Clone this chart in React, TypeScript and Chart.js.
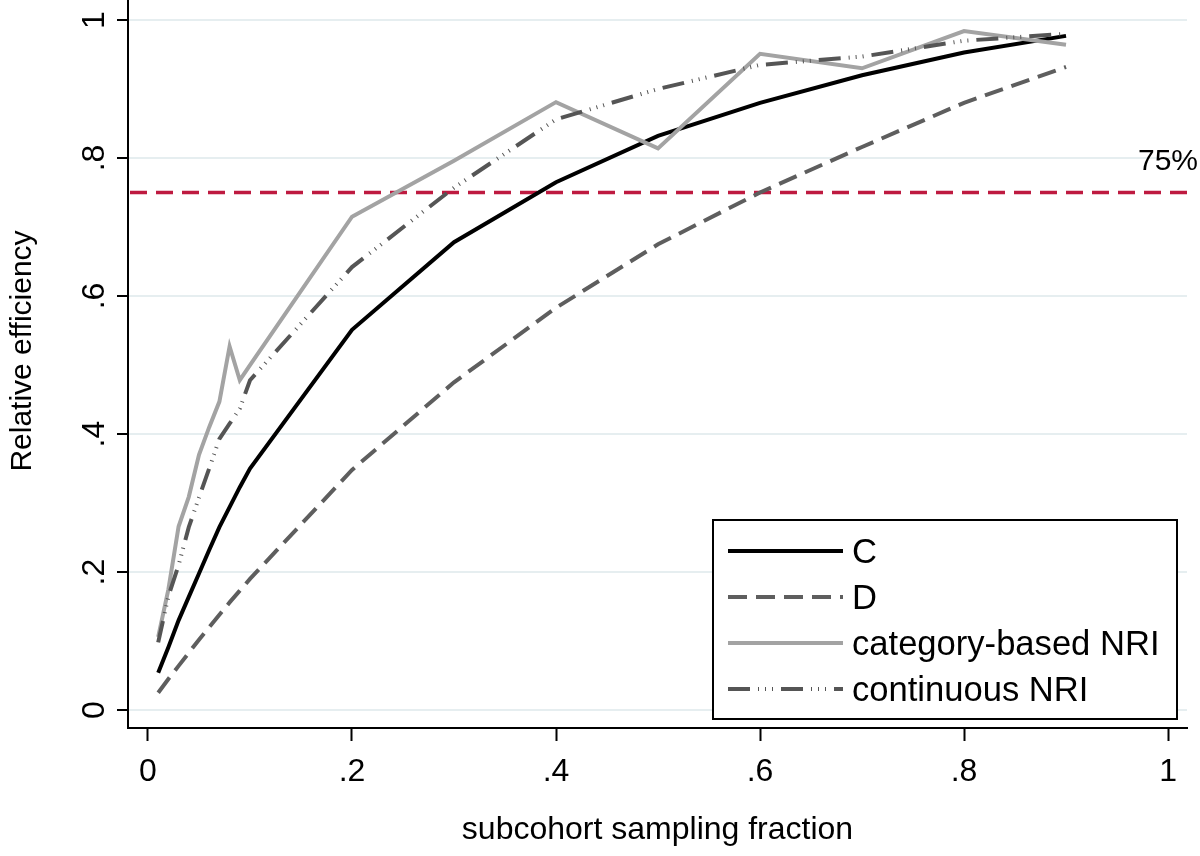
import React, { useEffect, useRef } from "react";
import { Chart, registerables } from "chart.js";

Chart.register(...registerables);

// ---- data ----
const samplingFractions = [0.01, 0.02, 0.03, 0.04, 0.05, 0.06, 0.07, 0.08, 0.09, 0.1, 0.2, 0.3, 0.4, 0.5, 0.6, 0.7, 0.8, 0.9];
const effC = [0.054, 0.091, 0.13, 0.164, 0.198, 0.232, 0.265, 0.294, 0.323, 0.35, 0.551, 0.678, 0.765, 0.832, 0.88, 0.92, 0.953, 0.977];
const effD = [0.025, 0.045, 0.064, 0.083, 0.102, 0.12, 0.138, 0.156, 0.173, 0.19, 0.348, 0.475, 0.583, 0.675, 0.75, 0.816, 0.88, 0.932];
const effCategoryNRI = [0.106, 0.175, 0.266, 0.309, 0.37, 0.41, 0.447, 0.527, 0.478, 0.5, 0.715, 0.796, 0.881, 0.814, 0.951, 0.93, 0.984, 0.964];
const effContinuousNRI = [0.098, 0.165, 0.21, 0.265, 0.308, 0.35, 0.393, 0.415, 0.437, 0.478, 0.642, 0.757, 0.856, 0.9, 0.935, 0.947, 0.97, 0.98];
const seriesLabels = ["C", "D", "category-based NRI", "continuous NRI"];
const xTickValues = [0, 0.2, 0.4, 0.6, 0.8, 1];
const yTickValues = [0, 0.2, 0.4, 0.6, 0.8, 1];
const thresholdValue = 0.75;
const thresholdLabel = "75%";
const xTitle = "subcohort sampling fraction";
const yTitle = "Relative efficiency";

const FONT = '"Liberation Sans", Arial, Helvetica, sans-serif';

const fmtTick = (v: number) => {
  if (v === 0) return "0";
  if (v === 1) return "1";
  return "." + String(Math.round(v * 10));
};

const toPoints = (ys: number[]) => samplingFractions.map((x, i) => ({ x, y: ys[i] }));

const thresholdPlugin = {
  id: "thresholdLine",
  beforeDatasetsDraw(chart: any) {
    const { ctx, chartArea, scales } = chart;
    const y = scales.y.getPixelForValue(thresholdValue);
    ctx.save();
    ctx.strokeStyle = "#BE1A40";
    ctx.lineWidth = 3.5;
    ctx.setLineDash([17, 9]);
    ctx.lineCap = "butt";
    ctx.beginPath();
    ctx.moveTo(chartArea.left + 2, y);
    ctx.lineTo(chartArea.right, y);
    ctx.stroke();
    ctx.restore();
  },
  afterDraw(chart: any) {
    const { ctx, scales, chartArea } = chart;
    const y = scales.y.getPixelForValue(thresholdValue);
    ctx.save();
    ctx.fillStyle = "#000";
    ctx.font = `30px ${FONT}`;
    ctx.textAlign = "right";
    ctx.textBaseline = "alphabetic";
    ctx.fillText(thresholdLabel, chart.width - 2, y - 23);
    // y-axis title, rotated
    ctx.translate(23, (chartArea.top + chartArea.bottom) / 2 - 13);
    ctx.rotate(-Math.PI / 2);
    ctx.font = `30px ${FONT}`;
    ctx.textAlign = "center";
    ctx.textBaseline = "middle";
    ctx.fillText(yTitle, 0, 0);
    ctx.restore();
  },
};

const boxLegendPlugin = {
  id: "boxLegend",
  afterDatasetsDraw(chart: any) {
    const { ctx, chartArea } = chart;
    const w = 464;
    const h = 199;
    const right = chartArea.right - 10;
    const bottom = chartArea.bottom - 9;
    const left = right - w;
    const top = bottom - h;
    ctx.save();
    ctx.fillStyle = "#fff";
    ctx.fillRect(left, top, w, h);
    ctx.strokeStyle = "#000";
    ctx.lineWidth = 2;
    ctx.setLineDash([]);
    ctx.strokeRect(left, top, w, h);
    chart.data.datasets.forEach((ds: any, i: number) => {
      const y = top + 31 + i * 46;
      ctx.strokeStyle = ds.borderColor;
      ctx.lineWidth = ds.borderWidth;
      ctx.lineCap = "butt";
      ctx.setLineDash(ds.borderDash || []);
      ctx.beginPath();
      ctx.moveTo(left + 15, y);
      ctx.lineTo(left + 130, y);
      ctx.stroke();
      ctx.setLineDash([]);
      ctx.fillStyle = "#000";
      ctx.font = `34.6px ${FONT}`;
      ctx.textAlign = "left";
      ctx.textBaseline = "middle";
      ctx.fillText(ds.label, left + 139, y + 2);
    });
    ctx.restore();
  },
};

export default function App() {
  const canvasRef = useRef<HTMLCanvasElement | null>(null);

  useEffect(() => {
    document.body.style.margin = "0";
    const canvas = canvasRef.current;
    if (!canvas) return;
    const chart = new Chart(canvas, {
      type: "line",
      data: {
        datasets: [
          {
            label: seriesLabels[0],
            data: toPoints(effC),
            borderColor: "#000000",
            borderWidth: 4,
            pointRadius: 0,
            tension: 0,
            order: 4,
          },
          {
            label: seriesLabels[1],
            data: toPoints(effD),
            borderColor: "#5E5E5E",
            borderWidth: 4,
            borderDash: [19, 9],
            borderCapStyle: "butt",
            pointRadius: 0,
            tension: 0,
            order: 3,
          },
          {
            label: seriesLabels[2],
            data: toPoints(effCategoryNRI),
            borderColor: "#A3A3A3",
            borderWidth: 4,
            pointRadius: 0,
            tension: 0,
            order: 2,
          },
          {
            label: seriesLabels[3],
            data: toPoints(effContinuousNRI),
            borderColor: "#555555",
            borderWidth: 4,
            borderDash: [22, 8, 1, 6, 1, 6, 1, 8],
            borderCapStyle: "butt",
            pointRadius: 0,
            tension: 0,
            order: 1,
          },
        ],
      },
      options: {
        responsive: false,
        animation: false,
        devicePixelRatio: 1,
        layout: { padding: { left: 0, right: 13, top: 0, bottom: 0 } },
        plugins: {
          legend: { display: false },
          tooltip: { enabled: false },
        },
        scales: {
          x: {
            type: "linear",
            min: -0.0196,
            max: 1.0186,
            afterBuildTicks: (s: any) => {
              s.ticks = xTickValues.map((v) => ({ value: v }));
            },
            afterFit: (s: any) => {
              s.height = 128;
              s.paddingLeft = 0;
              s.paddingRight = 0;
            },
            grid: {
              drawOnChartArea: false,
              drawTicks: true,
              tickLength: 13,
              tickWidth: 2,
              tickColor: "#000",
            },
            border: { display: true, color: "#000", width: 2 },
            ticks: {
              autoSkip: false,
              maxRotation: 0,
              minRotation: 0,
              padding: 12,
              color: "#000",
              font: { family: FONT, size: 32 },
              callback: (v: any) => fmtTick(Number(v)),
            },
            title: {
              display: true,
              text: xTitle,
              color: "#000",
              font: { family: FONT, size: 32 },
              padding: { top: 0, bottom: 7 },
            },
          },
          y: {
            type: "linear",
            min: -0.026,
            max: 1.029,
            afterBuildTicks: (s: any) => {
              s.ticks = yTickValues.map((v) => ({ value: v }));
            },
            afterFit: (s: any) => {
              s.width = 128;
              s.paddingTop = 0;
              s.paddingBottom = 0;
            },
            grid: {
              color: "#E6EEF0",
              lineWidth: 2,
              drawTicks: true,
              tickLength: 11,
              tickWidth: 2,
              tickColor: "#000",
            },
            border: { display: true, color: "#000", width: 2 },
            ticks: {
              autoSkip: false,
              minRotation: 90,
              maxRotation: 90,
              crossAlign: "center",
              padding: 8,
              color: "#000",
              font: { family: FONT, size: 32 },
              callback: (v: any) => fmtTick(Number(v)),
            },
            title: { display: false },
          },
        },
      },
      plugins: [thresholdPlugin, boxLegendPlugin],
    } as any);
    return () => chart.destroy();
  }, []);

  return (
    <div style={{ width: 1200, height: 856, background: "#fff" }}>
      <canvas ref={canvasRef} width={1200} height={856} style={{ display: "block" }} />
    </div>
  );
}
